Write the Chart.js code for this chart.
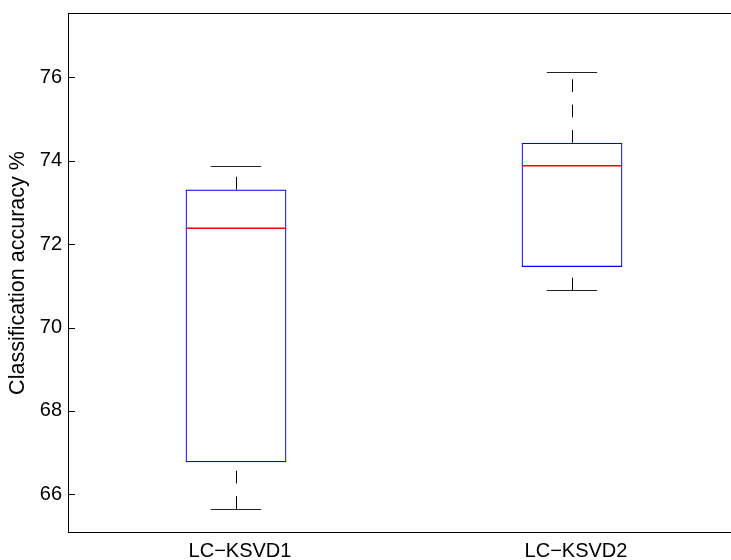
<!DOCTYPE html>
<html>
<head>
<meta charset="utf-8">
<script src="https://cdn.jsdelivr.net/npm/chart.js@4/dist/chart.umd.min.js"></script>
<style>
  html, body { margin: 0; padding: 0; background: #fff; overflow: hidden; }
  #wrap { width: 731px; height: 560px; overflow: hidden; }
  canvas { display: block; }
</style>
</head>
<body>
<div id="wrap"><canvas id="c" width="745" height="560"></canvas></div>
<script>
// Box-plot statistics per method
const categories = ['LC\u2212KSVD1', 'LC\u2212KSVD2'];
const lowerWhisker = [65.65, 70.89];
const q1 = [66.77, 71.45];
const median = [72.38, 73.88];
const q3 = [73.31, 74.43];
const upperWhisker = [73.88, 76.12];
const yTicks = [66, 68, 70, 72, 74, 76];

const FONT = 'Liberation Sans, Arial, Helvetica, sans-serif';

// Medians, dashed whiskers, caps, inward ticks and the axes frame
const boxExtras = {
  id: 'boxExtras',
  afterDatasetsDraw(chart) {
    const ctx = chart.ctx;
    const xs = chart.scales.x;
    const ys = chart.scales.y;
    const area = chart.chartArea;
    const meta = chart.getDatasetMeta(0);
    ctx.save();
    categories.forEach((c, i) => {
      const bar = meta.data[i];
      const cx = xs.getPixelForValue(i);
      const half = bar.width / 2;
      const capHalf = half / 2;
      const xm = Math.round(cx) + 0.5;

      // whiskers: dashed, drawn from the lower value upward
      ctx.strokeStyle = '#000';
      ctx.lineWidth = 1;
      ctx.setLineDash([12.7, 12.7]);
      ctx.beginPath();
      ctx.moveTo(xm, ys.getPixelForValue(q3[i]));
      ctx.lineTo(xm, ys.getPixelForValue(upperWhisker[i]));
      ctx.stroke();
      ctx.beginPath();
      ctx.moveTo(xm, ys.getPixelForValue(lowerWhisker[i]));
      ctx.lineTo(xm, ys.getPixelForValue(q1[i]));
      ctx.stroke();
      ctx.setLineDash([]);

      // caps
      ctx.strokeStyle = '#222';
      [lowerWhisker[i], upperWhisker[i]].forEach(v => {
        const y = Math.round(ys.getPixelForValue(v)) + 0.5;
        ctx.beginPath();
        ctx.moveTo(cx - capHalf, y);
        ctx.lineTo(cx + capHalf, y);
        ctx.stroke();
      });

      // median
      const ym = ys.getPixelForValue(median[i]);
      ctx.strokeStyle = '#ff0000';
      ctx.lineWidth = 1.4;
      ctx.beginPath();
      ctx.moveTo(cx - half + 0.5, ym);
      ctx.lineTo(cx + half - 0.5, ym);
      ctx.stroke();
      ctx.lineWidth = 1;
    });

    // axes frame (left, top, bottom)
    ctx.strokeStyle = '#000';
    ctx.lineWidth = 1;
    ctx.beginPath();
    ctx.moveTo(area.left + 0.5, area.top + 0.5);
    ctx.lineTo(area.left + 0.5, area.bottom - 0.5);
    ctx.moveTo(area.left, area.top + 0.5);
    ctx.lineTo(area.right, area.top + 0.5);
    ctx.moveTo(area.left, area.bottom - 0.5);
    ctx.lineTo(area.right, area.bottom - 0.5);
    ctx.stroke();

    // inward y ticks
    ctx.beginPath();
    yTicks.forEach(v => {
      const y = Math.round(ys.getPixelForValue(v)) + 0.5;
      ctx.moveTo(area.left, y);
      ctx.lineTo(area.left + 7, y);
    });
    ctx.stroke();
    ctx.restore();
  }
};

new Chart(document.getElementById('c'), {
  type: 'bar',
  data: {
    labels: categories,
    datasets: [{
      data: categories.map((c, i) => [q1[i], q3[i]]),
      backgroundColor: 'rgba(0,0,0,0)',
      borderColor: '#0000ff',
      borderWidth: 1.2,
      borderSkipped: false,
      barPercentage: 0.3,
      categoryPercentage: 1
    }]
  },
  options: {
    responsive: false,
    devicePixelRatio: 1,
    animation: false,
    layout: { padding: { top: 13, right: 5, left: 0, bottom: 0 } },
    plugins: { legend: { display: false }, tooltip: { enabled: false } },
    scales: {
      x: {
        offset: true,
        grid: { display: false, drawTicks: false },
        border: { display: false },
        ticks: {
          color: '#000',
          font: { family: FONT, size: 20 },
          padding: 6,
          labelOffset: 4,
          maxRotation: 0
        },
        afterFit(scale) {
          scale.height = 27;
          scale.paddingLeft = 0;
          scale.paddingRight = 0;
        }
      },
      y: {
        min: 65.072,
        max: 77.542,
        grid: { display: false, drawTicks: false },
        border: { display: false },
        afterBuildTicks(scale) { scale.ticks = yTicks.map(v => ({ value: v })); },
        ticks: {
          color: '#000',
          font: { family: FONT, size: 20 },
          padding: 6,
          includeBounds: false
        },
        title: {
          display: true,
          text: 'Classification accuracy %',
          color: '#000',
          font: { family: FONT, size: 21.5 },
          padding: { top: 5, bottom: 0 }
        },
        afterFit(scale) {
          scale.width = 68;
          scale.paddingTop = 0;
          scale.paddingBottom = 0;
        }
      }
    }
  },
  plugins: [boxExtras]
});
</script>
</body>
</html>
